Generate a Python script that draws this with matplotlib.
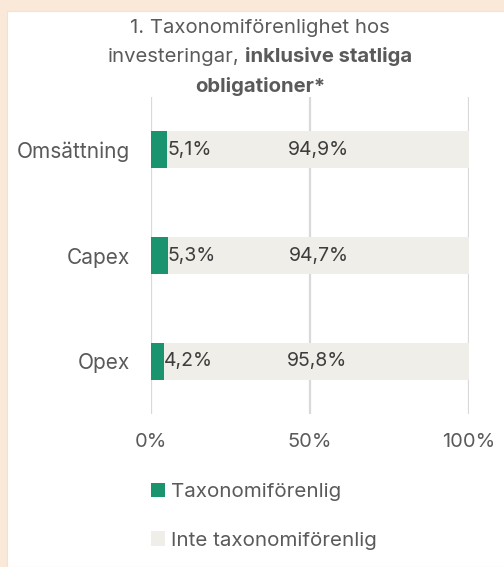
import matplotlib.pyplot as plt
from matplotlib.patches import Patch, Rectangle

# chart values
categories = ["Omsättning", "Capex", "Opex"]
aligned = [5.1, 5.3, 4.2]
not_aligned = [94.9, 94.7, 95.8]
aligned_labels = ["5,1%", "5,3%", "4,2%"]
not_aligned_labels = ["94,9%", "94,7%", "95,8%"]
x_ticks = [0, 50, 100]
x_tick_labels = ["0%", "50%", "100%"]
legend_labels = ["Taxonomiförenlig", "Inte taxonomiförenlig"]

GREEN = "#1a936f"
LIGHT = "#efeee8"
TEXT = "#5a5a5a"
DARK = "#3d3d3d"
W, H = 504, 567

plt.rcParams["font.family"] = ["Inter", "DejaVu Sans"]

fig = plt.figure(figsize=(W / 100, H / 100), dpi=100)
fig.patch.set_facecolor("#fae9d8")
# white card
fig.add_artist(Rectangle((7 / W, 0), 1, 1 - 11 / H, transform=fig.transFigure,
                         facecolor="white", edgecolor="#f0e2d4", lw=0.8, zorder=0))

ax = fig.add_axes([151 / W, 1 - 414 / H, 318 / W, 317 / H])
ax.set_facecolor("none")

y = list(range(len(categories)))
ax.barh(y, aligned, height=0.35, color=GREEN, zorder=2)
ax.barh(y, not_aligned, left=aligned, height=0.35, color=LIGHT, zorder=2)

for i in y:
    ax.text(aligned[i], i, aligned_labels[i], ha="left", va="center",
            fontsize=14, color=DARK, zorder=3)
    ax.text(aligned[i] + not_aligned[i] / 2, i, not_aligned_labels[i],
            ha="center", va="center", fontsize=14, color=DARK, zorder=3)

ax.set_xlim(0, 100)
ax.set_ylim(len(categories) - 0.5, -0.5)
ax.set_xticks(x_ticks)
ax.set_xticklabels(x_tick_labels)
ax.set_yticks(y)
ax.set_yticklabels(categories)
ax.tick_params(axis="x", length=0, pad=14, labelsize=14.4, labelcolor=TEXT)
ax.tick_params(axis="y", length=0, pad=15, labelsize=15, labelcolor=TEXT)
ax.xaxis.grid(True, color="#d9d9d9", lw=1.6, zorder=1)
ax.set_axisbelow(True)
for s in ax.spines.values():
    s.set_visible(False)

# title with mixed weights
tx = 260 / W
fig.text(tx, 1 - 28 / H, "1. Taxonomiförenlighet hos", ha="center", va="center",
         fontsize=14.6, color=TEXT)
fig.canvas.draw()
r = fig.canvas.get_renderer()
t1 = fig.text(0, 1 - 57 / H, "investeringar,", ha="left", va="center",
              fontsize=14.6, color=TEXT)
t2 = fig.text(0, 1 - 57 / H, "inklusive statliga", ha="left", va="center",
              fontsize=14.6, color=TEXT, fontweight="bold")
gap = 5 / W
w1 = t1.get_window_extent(r).width / W
w2 = t2.get_window_extent(r).width / W
x0 = tx - (w1 + gap + w2) / 2
t1.set_x(x0)
t2.set_x(x0 + w1 + gap)
fig.text(tx, 1 - 86 / H, "obligationer*", ha="center", va="center",
         fontsize=14.6, color=TEXT, fontweight="bold")

handles = [Patch(facecolor=GREEN), Patch(facecolor=LIGHT)]
fig.legend(handles, legend_labels, loc="upper left",
           bbox_to_anchor=(151 / W, 1 - 483 / H), frameon=False,
           fontsize=14.8, labelcolor=TEXT, borderpad=0, borderaxespad=0,
           handlelength=0.7, handleheight=0.7, handletextpad=0.28,
           labelspacing=1.45)

fig.savefig("out.png", dpi=100, facecolor=fig.get_facecolor())
